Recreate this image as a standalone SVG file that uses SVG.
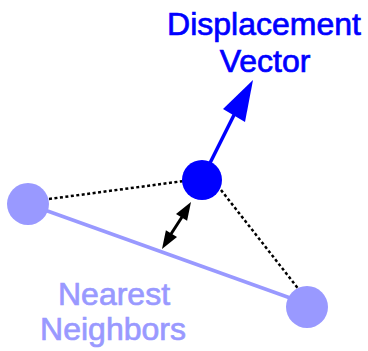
<svg xmlns="http://www.w3.org/2000/svg" width="368" height="351" viewBox="0 0 368 351">
<style>
.lbl{font-family:"Liberation Sans",Arial,sans-serif;font-size:32px;text-anchor:middle;stroke-width:0.7}
.dash{stroke:#000;stroke-width:2.5;stroke-dasharray:3 2.5;fill:none}
</style>
<rect width="368" height="351" fill="#fff"/>
<g id="connectors">
<line x1="28" y1="204" x2="307" y2="304" stroke="#9999ff" stroke-width="3.5"/>
<line class="dash" x1="49" y1="199" x2="184" y2="181"/>
<line class="dash" x1="221" y1="190" x2="300" y2="291"/>
<line x1="182" y1="217" x2="171" y2="234" stroke="#000" stroke-width="3"/>
<path d="M191,202L187.1,220.7L176,213.9z" fill="#000"/>
<path d="M162,249L165.9,230.3L177,237.1z" fill="#000"/>
<line x1="209" y1="165" x2="235" y2="113" stroke="#0000ff" stroke-width="3.5"/>
<path d="M253,80L245,122L223,109z" fill="#0000ff"/>
</g>
<g id="n-left"><circle cx="28" cy="204" r="21" fill="#9999ff"/></g>
<g id="n-right"><circle cx="307" cy="307" r="21" fill="#9999ff"/></g>
<g id="n-center"><circle cx="202" cy="180" r="20" fill="#0000ff"/></g>
<g id="label-displacement">
<text class="lbl" x="264" y="35" fill="#0000ff" stroke="#0000ff">Displacement</text>
<text class="lbl" x="265" y="72" fill="#0000ff" stroke="#0000ff">Vector</text>
</g>
<g id="label-neighbors">
<text class="lbl" x="114" y="305" fill="#9999ff" stroke="#9999ff">Nearest</text>
<text class="lbl" x="113" y="340" fill="#9999ff" stroke="#9999ff">Neighbors</text>
</g>
</svg>
